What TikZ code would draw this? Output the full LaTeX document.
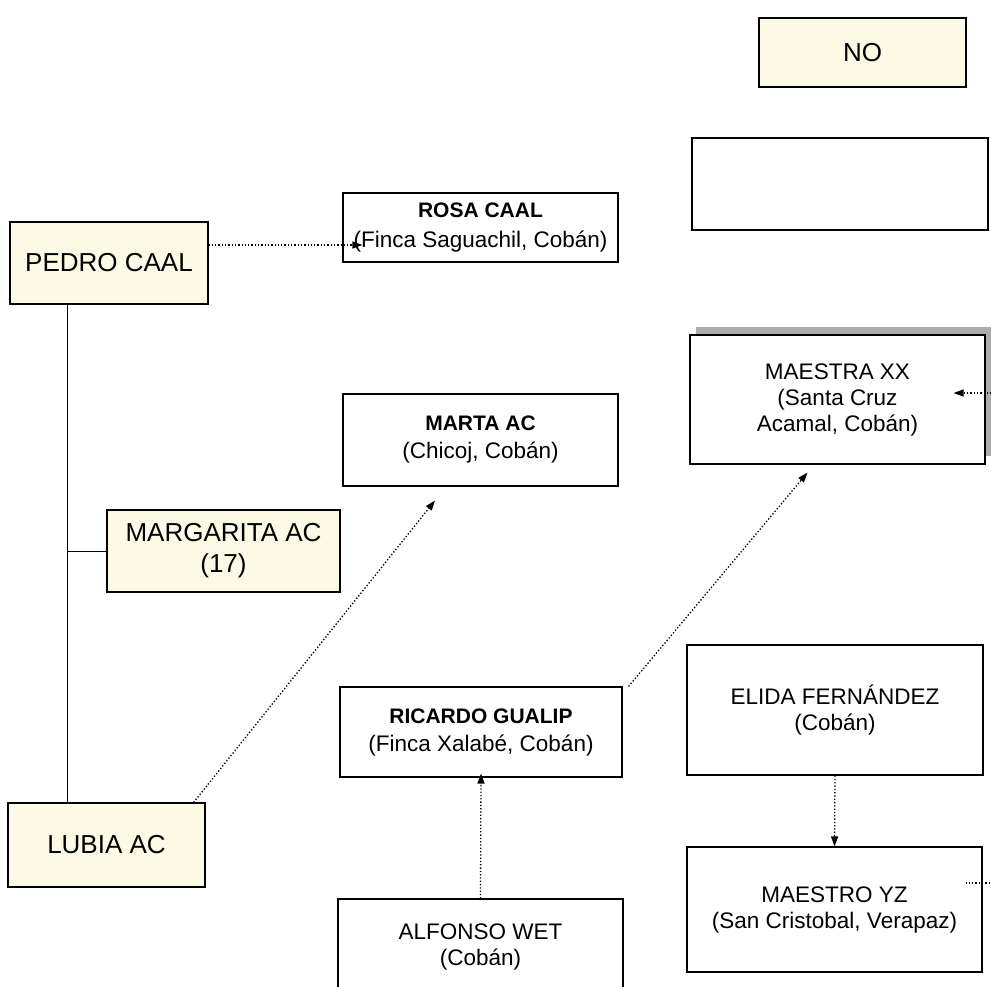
\documentclass[tikz,border=0pt]{standalone}
\usepackage{fontspec}
\setmainfont{Liberation Sans}
\usepackage{xcolor}
\usetikzlibrary{positioning,calc,shadows,arrows.meta}
\definecolor{cream}{RGB}{252,249,228}

\begin{document}
\begin{tikzpicture}[x=1pt,y=-1pt,
		box/.style={draw, line width=1.1pt, rectangle, align=center, inner sep=0pt,
			font=\fontsize{22.5}{28}\selectfont},
		kin/.style={box, fill=cream, font=\fontsize{26}{31}\selectfont},
		link/.style={dotted, line width=1.3pt, -{Triangle[length=10pt,width=7pt]}},
		tie/.style={line width=1pt}]
			\useasboundingbox (0,0) rectangle (991,987);
			\node [kin, minimum width=207pt, minimum height=69pt] (no) at (862.5,52.5) {NO};
			\node [box, minimum width=296pt, minimum height=92pt] (blank) at (840,184) {};
			\node [kin, minimum width=198pt, minimum height=82pt] (pedro) at (109,263) {PEDRO CAAL};
			\node [box, font=\fontsize{22.5}{30}\selectfont, minimum width=275pt, minimum height=69pt] (rosa) at (480.5,227.5) {{\fontsize{21}{27}\selectfont\bfseries ROSA CAAL}\\(Finca Saguachil, Cobán)};
			\node [box, minimum width=275pt, minimum height=92pt] (marta) at (480.5,440) {{\fontsize{21}{27}\selectfont\bfseries MARTA AC}\\(Chicoj, Cobán)};
			\node [kin, minimum width=233pt, minimum height=82pt] (margarita) at (223.5,551) {MARGARITA AC\\(17)};
			\node [kin, minimum width=197pt, minimum height=84pt] (lubia) at (106.5,845) {LUBIA AC};
			\node [box, fill=white, font=\fontsize{22.5}{26}\selectfont, minimum width=295pt, minimum height=129pt,
				drop shadow={shadow xshift=6pt, shadow yshift=8pt, fill=gray!65, opacity=1}] (maestra) at (837.5,399.5) {MAESTRA XX\\(Santa Cruz\\Acamal, Cobán)};
			\node [box, minimum width=282pt, minimum height=90pt] (ricardo) at (481,732) {{\fontsize{21}{27}\selectfont\bfseries RICARDO GUALIP}\\(Finca Xalabé, Cobán)};
			\node [box, font=\fontsize{22.5}{26}\selectfont, minimum width=285pt, minimum height=96pt] (alfonso) at (480.5,947) {ALFONSO WET\\(Cobán)};
			\node [box, font=\fontsize{22.5}{26}\selectfont, minimum width=296pt, minimum height=130pt] (elida) at (835,710) {ELIDA FERNÁNDEZ\\(Cobán)};
			\node [box, font=\fontsize{22.5}{26}\selectfont, minimum width=295pt, minimum height=125pt] (maestro) at (834.5,909.5) {MAESTRO YZ\\(San Cristobal, Verapaz)};
			\coordinate (trunk) at ([xshift=58pt]pedro.south west);
			\coordinate (maestraIn) at (998,393);
			\coordinate (maestroOut) at (998,883);
			\draw [tie] (trunk) -- (trunk |- lubia.north);
			\draw [tie] (margarita.west) -- (margarita.west -| trunk);
			\draw [link] ([yshift=18pt]pedro.east) -- ([xshift=20pt,yshift=-17.5pt]rosa.west);
			\draw [link] ([xshift=-12pt]lubia.north east) -- ([xshift=-45.5pt,yshift=-14pt]marta.south);
			\draw [link] ([xshift=6pt]ricardo.north east) -- ([xshift=-30pt,yshift=-8pt]maestra.south);
			\draw [link] (alfonso.north) -- ([yshift=4pt]ricardo.south);
			\draw [link] (elida.south) -- (maestro.north);
			\draw [link] (maestraIn) -- ([xshift=-32pt,yshift=6.5pt]maestra.east);
			\draw [dotted, line width=1.3pt] ([xshift=-17pt,yshift=26.5pt]maestro.east) -- (maestroOut);
		\end{tikzpicture}
\end{document}
